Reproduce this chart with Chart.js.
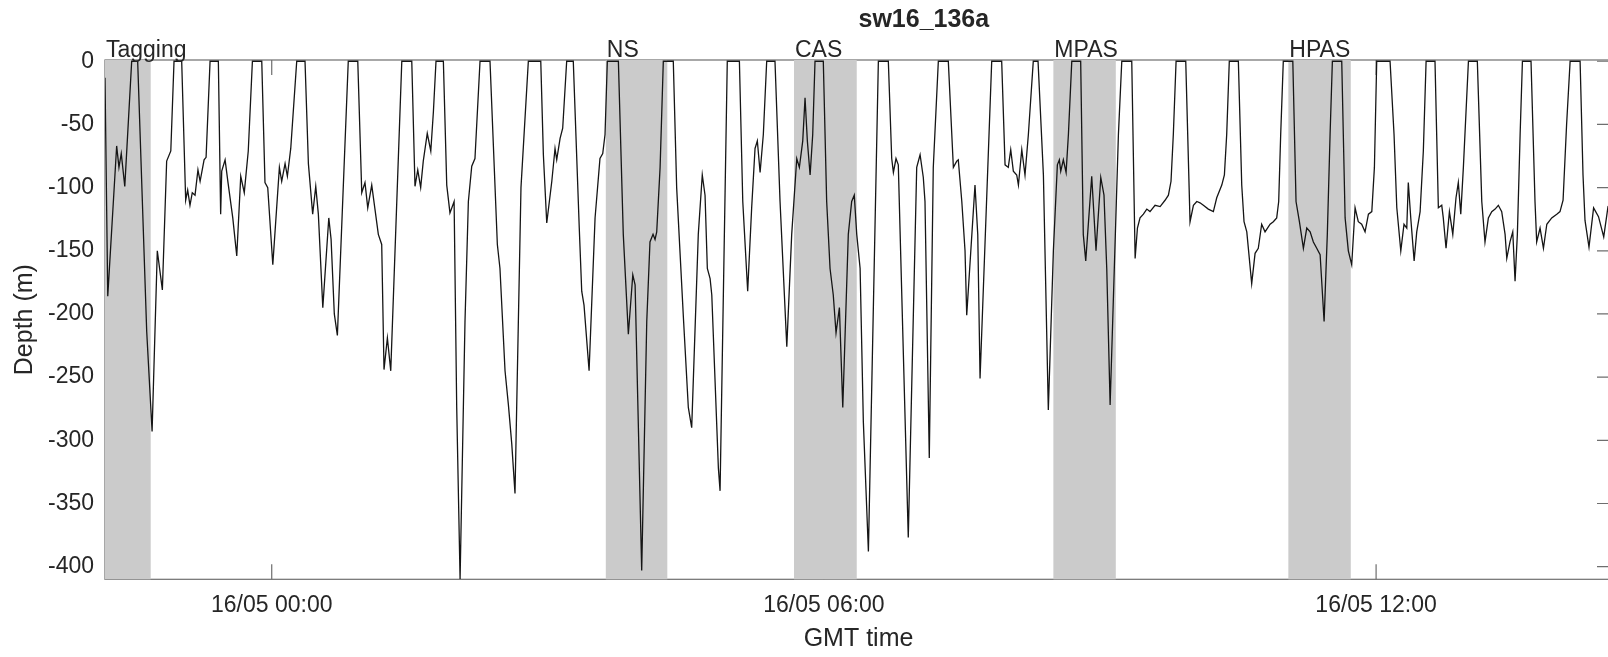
<!DOCTYPE html>
<html><head><meta charset="utf-8">
<script src="https://cdn.jsdelivr.net/npm/chart.js@4.4.1/dist/chart.umd.min.js"></script>
<style>html,body{margin:0;padding:0;background:#fff;overflow:hidden;width:1608px;height:657px}canvas{display:block}</style>
</head><body>
<canvas id="c" width="1620" height="657"></canvas>
<script>
// time in minutes relative to 16/05 00:00 GMT (negative = 15/05)
const timeMin = [
-108.7,-106.9,-101.1,-99.6,-98.1,-95.8,-91.3,-87.4,-81.5,-78.0,-74.6,-71.3,-68.5,-65.8,-63.7,-58.7,
-56.1,-54.8,-53.3,-51.8,-50.0,-48.1,-46.7,-44.1,-42.8,-40.2,-34.8,-33.3,-32.6,-30.4,-28.5,-25.4,
-22.8,-20.2,-17.9,-15.3,-12.6,-6.5,-4.4,-2.6,0.7,5.0,6.5,8.7,10.2,12.4,16.3,21.7,
23.9,26.7,28.7,30.4,33.3,37.2,38.7,40.8,42.8,49.9,56.1,58.7,60.8,62.6,65.2,67.3,
69.5,71.7,73.2,75.4,77.6,84.8,91.3,93.4,95.2,97.1,98.8,101.4,103.7,105.4,107.1,111.9,
114.1,116.2,118.9,120.6,122.8,126.0,128.2,130.4,132.5,135.8,142.3,147.1,148.8,152.1,154.3,156.5,
158.6,162.5,167.3,175.4,177.1,179.3,182.6,184.7,185.8,188.0,189.7,192.3,196.6,200.5,202.1,203.6,
206.9,210.8,214.0,215.8,217.3,218.8,226.0,229.2,232.5,235.4,236.9,241.2,244.5,246.6,248.6,249.9,
251.0,253.2,255.3,261.8,264.0,268.4,271.6,273.8,278.1,280.7,282.5,284.0,285.8,286.9,291.2,292.3,
297.0,304.9,307.1,310.3,312.9,315.1,316.6,318.4,320.5,322.7,328.1,331.4,335.8,339.0,342.3,344.0,
346.2,347.7,349.2,351.0,352.7,354.2,359.6,361.8,364.0,366.1,367.9,370.1,372.3,375.9,378.1,379.8,
381.4,383.6,385.7,389.0,395.5,402.0,404.2,405.3,407.0,408.5,415.0,420.5,422.7,424.8,425.9,428.7,
431.3,434.6,441.1,444.4,446.6,447.6,449.9,452.0,453.1,458.5,460.3,461.8,469.4,475.9,478.1,480.2,
481.8,483.5,485.7,486.8,489.0,491.1,493.3,496.5,499.6,503.1,506.3,509.6,512.2,513.5,514.4,516.1,
517.9,519.4,521.6,527.4,529.1,530.7,534.6,537.4,540.5,542.6,544.4,546.6,552.0,554.2,560.7,562.9,
564.4,566.1,568.3,570.5,572.6,575.9,579.2,582.4,584.6,586.3,587.8,589.6,595.9,598.7,600.9,603.1,
605.2,607.4,610.6,613.9,616.1,619.4,621.1,622.6,624.3,630.2,632.4,633.9,635.7,638.9,641.1,643.2,
645.4,647.6,650.9,653.0,655.2,656.5,657.8,659.5,665.7,667.8,670.0,672.6,674.8,677.0,679.1,681.3,
683.5,686.1,688.2,690.0,691.5,697.6,699.8,701.9,704.1,706.3,708.4,710.6,712.8,715.0,717.2,718.9,
720.4,729.1,731.7,733.5,736.1,738.2,740.0,741.0,742.6,744.8,746.5,748.7,750.8,752.6,758.4,760.6,
762.8,763.8,765.6,767.8,770.0,772.1,773.6,775.2,776.9,780.2,786.0,788.9,791.0,793.2,795.4,797.6,
799.7,801.9,804.1,805.2,807.3,809.1,810.6,812.1,813.9,815.4,821.0,823.6,824.7,826.9,829.1,831.3,
834.5,837.8,839.9,841.9,844.2,846.5,853.0,854.9,856.2,858.8,861.8,865.0,868.4,871.2,873.8
];
// depth in metres
const depthM = [
-13,-186,-67,-84,-73,-99,0,0,-214,-293,-150,-181,-79,-71,0,0,
-110,-102,-114,-104,-106,-86,-95,-78,-76,0,0,-121,-87,-78,-96,-124,
-154,-91,-104,-71,0,0,-96,-100,-161,-84,-95,-81,-91,-69,0,0,
-81,-121,-99,-121,-195,-124,-141,-200,-217,0,0,-104,-96,-116,-98,-117,
-137,-145,-244,-219,-245,0,0,-99,-86,-100,-79,-57,-71,-40,0,0,
-98,-120,-111,-274,-410,-206,-111,-83,-77,0,0,-145,-164,-245,-272,-303,
-342,-100,0,0,-74,-128,-95,-69,-78,-61,-53,0,0,-132,-182,-193,
-245,-124,-77,-73,-58,0,0,-137,-216,-169,-177,-403,-206,-143,-137,-141,
-135,-84,0,0,-100,-203,-274,-290,-137,-90,-106,-164,-172,-185,-322,-340,
0,0,-111,-182,-116,-69,-63,-88,-58,0,0,-111,-226,-137,-77,-84,
-63,-29,-63,-90,-58,0,0,-111,-164,-185,-215,-195,-274,-137,-111,-106,
-137,-164,-285,-388,0,0,-77,-88,-77,-82,-377,-84,-74,-92,-111,-314,
-84,0,0,-84,-79,-78,-111,-150,-201,-98,-137,-251,0,0,-82,-84,
-70,-87,-90,-98,-70,-90,-58,0,0,-90,-276,-150,-82,-78,-87,-78,
-88,-58,0,0,-137,-158,-91,-150,-92,-106,-164,-272,-58,0,0,-156,
-132,-124,-121,-117,-119,-114,-115,-110,-106,-95,-58,0,0,-127,-114,-111,
-112,-114,-117,-119,-108,-98,-90,-58,0,0,-98,-127,-135,-176,-152,-148,
-129,-135,-129,-127,-124,-111,-58,0,0,-111,-127,-148,-132,-135,-143,-148,
-153,-206,-137,-58,0,0,-124,-150,-161,-116,-127,-129,-135,-121,-119,-84,
0,0,-58,-116,-150,-129,-132,-96,-124,-158,-135,-119,-71,0,0,-116,
-114,-124,-148,-119,-137,-108,-96,-121,-84,0,0,-111,-143,-124,-119,-117,
-114,-119,-137,-156,-143,-135,-174,-137,-58,0,0,-111,-143,-132,-148,-129,
-124,-121,-119,-110,-50,0,0,-90,-126,-147,-116,-123,-139,-115,-112
];
const xTickValues = [0, 360, 720];
const xTickLabels = ['16/05 00:00', '16/05 06:00', '16/05 12:00'];
const yTickValues = [-400, -350, -300, -250, -200, -150, -100, -50, 0];
const eventNames = ['Tagging', 'NS', 'CAS', 'MPAS', 'HPAS'];
const eventStart = [-108.7, 217.8, 340.5, 509.6, 662.8];
const eventEnd = [-78.9, 257.9, 381.4, 550.3, 703.5];
const chartTitle = 'sw16_136a';
const xLabel = 'GMT time';
const yLabel = 'Depth (m)';
const xMin = -108.7, xMax = 873.8, yMin = -410, yMax = 1;

const FONT = '"Liberation Sans", Arial, Helvetica, sans-serif';
const TXT = '#262626';
const AX = '#6e6e6e';

const overlay = {
  id: 'overlay',
  beforeDatasetsDraw(chart) {
    const {ctx, chartArea: a, scales: {x, y}} = chart;
    ctx.save();
    ctx.strokeStyle = AX; ctx.lineWidth = 1.2;
    ctx.strokeRect(a.left, a.top, a.right - a.left, a.bottom - a.top);
    const TL = 15;
    ctx.beginPath();
    x.ticks.forEach(t => { const p = x.getPixelForValue(t.value);
      ctx.moveTo(p, a.bottom); ctx.lineTo(p, a.bottom - TL);
      ctx.moveTo(p, a.top); ctx.lineTo(p, a.top + TL); });
    y.ticks.forEach(t => { const p = y.getPixelForValue(t.value);
      ctx.moveTo(a.left, p); ctx.lineTo(a.left + TL, p);
      ctx.moveTo(a.right, p); ctx.lineTo(a.right - TL, p); });
    ctx.stroke();
    ctx.fillStyle = '#cbcbcb';
    eventStart.forEach((s, i) => {
      const x0 = Math.max(a.left, x.getPixelForValue(s));
      const x1 = x.getPixelForValue(eventEnd[i]);
      ctx.fillRect(x0, a.top, x1 - x0, a.bottom - a.top);
    });
    ctx.restore();
  },
  afterDraw(chart) {
    const {ctx, chartArea: a, scales: {x}} = chart;
    ctx.save();
    ctx.fillStyle = TXT;
    ctx.textBaseline = 'alphabetic';
    ctx.textAlign = 'left';
    ctx.font = '23px ' + FONT;
    eventNames.forEach((n, i) => {
      const p = Math.max(a.left, x.getPixelForValue(eventStart[i]));
      ctx.fillText(n, p + 1, a.top - 3);
    });
    ctx.font = 'bold 25px ' + FONT;
    ctx.fillText(chartTitle, (a.left + a.right) / 2, 27);
    ctx.restore();
  }
};

new Chart(document.getElementById('c'), {
  type: 'line',
  data: {
    datasets: [{
      data: timeMin.map((t, i) => ({x: t, y: depthM[i]})),
      borderColor: '#151515',
      borderWidth: 1.3,
      pointRadius: 0,
      fill: false,
      tension: 0
    }]
  },
  options: {
    responsive: false,
    devicePixelRatio: 1,
    animation: false,
    events: [],
    layout: {padding: {top: 60, right: 8, bottom: 0, left: 0}},
    plugins: {legend: {display: false}, tooltip: {enabled: false}, title: {display: false}},
    scales: {
      x: {
        type: 'linear', min: xMin, max: xMax,
        afterBuildTicks: s => { s.ticks = xTickValues.map(v => ({value: v})); },
        afterFit: s => { s.height = 77.7; },
        ticks: {
          callback: v => xTickLabels[xTickValues.indexOf(v)],
          font: {size: 23, family: FONT}, color: TXT, padding: 13,
          maxRotation: 0, autoSkip: false
        },
        grid: {display: false, drawTicks: false},
        border: {display: false},
        title: {display: true, text: xLabel, font: {size: 25, family: FONT}, color: TXT, padding: {top: 0, bottom: 3}}
      },
      y: {
        type: 'linear', min: yMin, max: yMax,
        afterBuildTicks: s => { s.ticks = yTickValues.map(v => ({value: v})); },
        afterFit: s => { s.width = 105; },
        ticks: {font: {size: 23, family: FONT}, color: TXT, padding: 11},
        grid: {display: false, drawTicks: false},
        border: {display: false},
        title: {display: true, text: yLabel, font: {size: 25, family: FONT}, color: TXT, padding: {top: 10, bottom: 0}}
      }
    }
  },
  plugins: [overlay]
});
</script>
</body></html>
